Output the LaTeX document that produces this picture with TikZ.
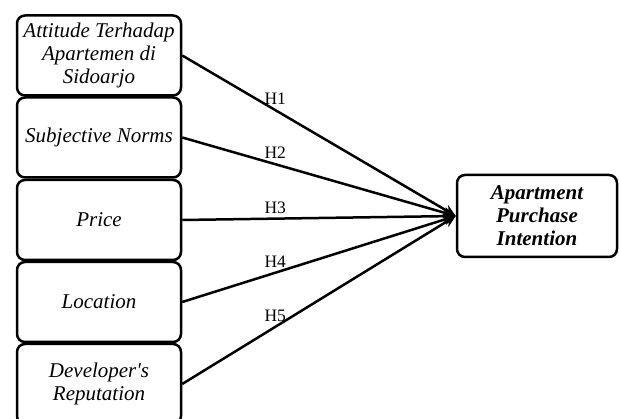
\documentclass[tikz,border=0pt]{standalone}
\usepackage{fontspec}
\setmainfont{Liberation Serif}
\usetikzlibrary{arrows.meta}
\begin{document}
\begin{tikzpicture}[x=1pt,y=-1pt,
  varbox/.style={draw, line width=2.5pt, rounded corners=8pt, minimum width=164pt, minimum height=80pt, align=center, font=\fontsize{21}{22.8}\selectfont\itshape, inner sep=2pt},
  dvbox/.style={varbox, minimum width=160pt, minimum height=82pt, font=\fontsize{21}{23}\selectfont\bfseries\itshape},
  link/.style={line width=2.5pt, -{Stealth[length=12pt,width=11pt]}},
  hlab/.style={font=\fontsize{17.5}{19}\selectfont, inner sep=4pt, above, pos=0.34}]
\useasboundingbox (0,0) rectangle (619,419);
\clip (0,0) rectangle (619,419);
\node[varbox] (a) at (99,55.5) {Attitude Terhadap\\Apartemen di\\Sidoarjo};
\node[varbox] (b) at (99,137.5) {Subjective Norms};
\node[varbox] (c) at (99,220) {Price};
\node[varbox] (d) at (99,302) {Location};
\node[varbox] (e) at (99,384) {Developer\textquotesingle s\\Reputation};
\node[dvbox] (y) at (537,216) {Apartment\\Purchase\\Intention};
\draw[link] (a.east) -- node[hlab] {H1} (y.west);
\draw[link] (b.east) -- node[hlab] {H2} (y.west);
\draw[link] (c.east) -- node[hlab] {H3} (y.west);
\draw[link] (d.east) -- node[hlab] {H4} (y.west);
\draw[link] (e.east) -- node[hlab] {H5} (y.west);
\end{tikzpicture}
\end{document}
